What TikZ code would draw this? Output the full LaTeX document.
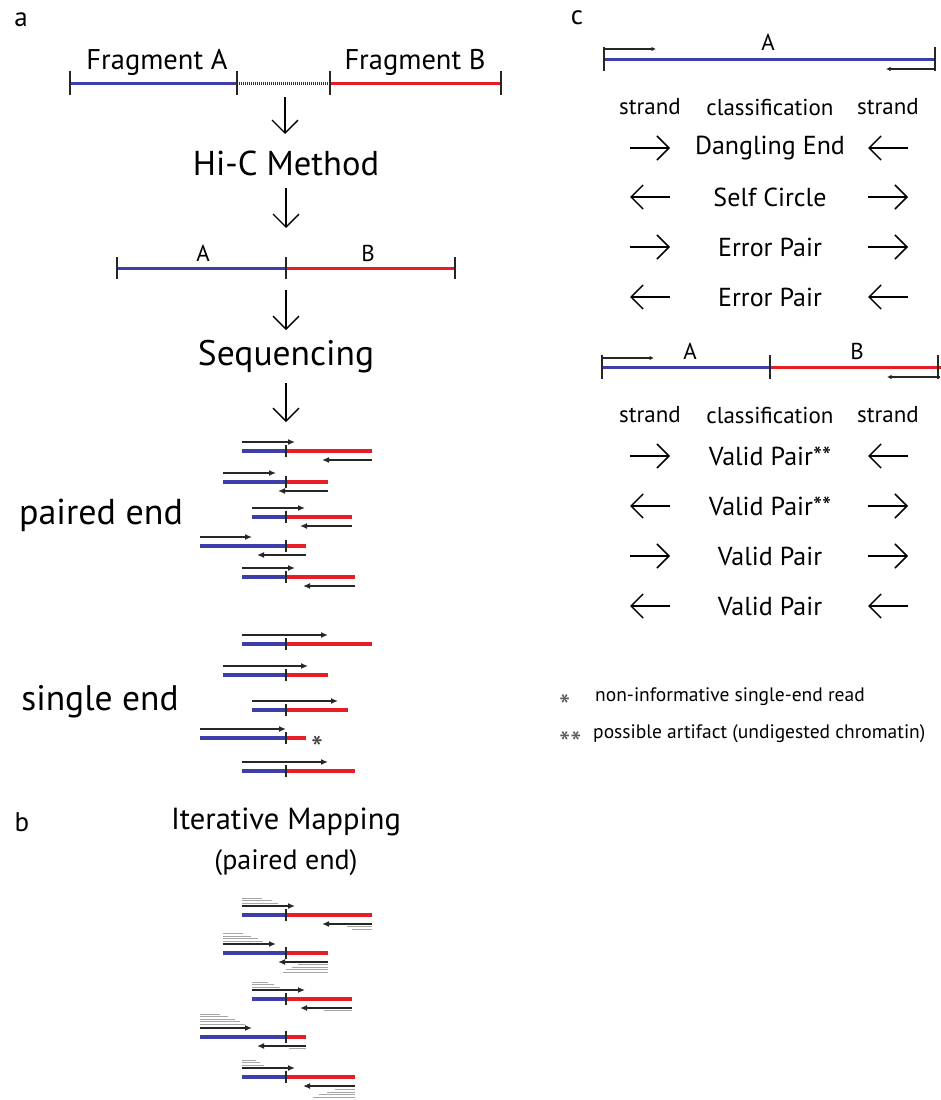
\documentclass[tikz,border=0pt]{standalone}
\usepackage{fontspec}
\setmainfont{PT Sans}
\usetikzlibrary{arrows.meta}
\definecolor{fragblue}{RGB}{62,62,170}
\definecolor{fragred}{RGB}{232,28,36}
\tikzset{
  blueseg/.style={fragblue,line width=3pt},
  redseg/.style={fragred,line width=3pt},
  tickmark/.style={black!85,line width=1.4pt},
  flow/.style={line width=1.4pt,-{Straight Barb[length=13pt,width=26pt]}},
  readarrow/.style={line width=1.8pt,black!85,-{Latex[length=7pt,width=6pt]}},
  readblue/.style={fragblue,line width=4pt},
  readred/.style={fragred,line width=4pt},
  fanline/.style={gray!70,line width=0.7pt},
  strandarrow/.style={line width=1.5pt,-{Straight Barb[length=12pt,width=24pt]}},
  smallarrow/.style={line width=1.3pt,black!85,-{Latex[length=4.5pt,width=4.5pt]}},
  fragtext/.style={font=\fontsize{28.5}{32}\selectfont,inner sep=0pt},
  labtext/.style={font=\fontsize{23}{27}\selectfont,inner sep=0pt},
  headtext/.style={font=\fontsize{23}{27}\selectfont,inner sep=0pt},
  rowtext/.style={font=\fontsize{26}{30}\selectfont,inner sep=0pt},
  paneltext/.style={font=\fontsize{27}{32}\selectfont,inner sep=0pt},
  notetext/.style={font=\fontsize{19.5}{23}\selectfont,inner sep=0pt,anchor=west},
  notestar/.style={font=\fontsize{32}{34}\selectfont,inner sep=0pt,anchor=west,text=black!65},
}
% paired-end read: name, y, blue start, red end, top tip, bottom tip
\newcommand\pairread[6]{%
  \coordinate (#1s) at (#3,#2);
  \coordinate (#1j) at (286,#2);
  \coordinate (#1e) at (#4,#2);
  \draw[readblue] (#1s) -- (#1j);
  \draw[readred] (#1j) -- (#1e);
  \draw[tickmark] ([yshift=6pt]#1j) -- ([yshift=-6pt]#1j);
  \coordinate (#1ta) at (#3,{#2-9});
  \coordinate (#1tb) at (#5,{#2-9});
  \draw[readarrow] (#1ta) -- (#1tb);
  \coordinate (#1ba) at (#4,{#2+9});
  \coordinate (#1bb) at (#6,{#2+9});
  \draw[readarrow] (#1ba) -- (#1bb);
}
% single-end read: name, y, blue start, red end, tip
\newcommand\singleread[5]{%
  \coordinate (#1s) at (#3,#2);
  \coordinate (#1j) at (286,#2);
  \coordinate (#1e) at (#4,#2);
  \draw[readblue] (#1s) -- (#1j);
  \draw[readred] (#1j) -- (#1e);
  \draw[tickmark] ([yshift=6pt]#1j) -- ([yshift=-6pt]#1j);
  \coordinate (#1ta) at (#3,{#2-9});
  \coordinate (#1tb) at (#5,{#2-9});
  \draw[readarrow] (#1ta) -- (#1tb);
}
\newcommand\fanup[3]{%
  \foreach \l [count=\i] in {#3} \draw[fanline] (#1,{#2-\i*2.6}) -- ++(\l,0);}
\newcommand\fandown[3]{%
  \foreach \l [count=\i] in {#3} \draw[fanline] (#1,{#2+\i*2.6}) -- ++(-\l,0);}
% strand row: name, y, text, left from, left to, right from, right to
\newcommand\strandrow[7]{%
  \node[rowtext] (#1t) at (770,#2) {#3};
  \coordinate (#1la) at (#4,#2); \coordinate (#1lb) at (#5,#2);
  \coordinate (#1ra) at (#6,#2); \coordinate (#1rb) at (#7,#2);
  \draw[strandarrow] (#1la) -- (#1lb);
  \draw[strandarrow] (#1ra) -- (#1rb);
}
\begin{document}
\begin{tikzpicture}[x=1pt,y=-1pt]
\useasboundingbox[fill=white] (0,0) rectangle (940,1100);

% ---------- panel a ----------
\node[paneltext] (la) at (21,20) {a};
\coordinate (f1) at (70,83);
\coordinate (f2) at (237,83);
\coordinate (f3) at (330,83);
\coordinate (f4) at (501,83);
\draw[blueseg] (f1) -- (f2);
\draw[black!80,line width=3pt,dash pattern=on 1.1pt off 0.9pt] (f2) -- (f3);
\draw[redseg] (f3) -- (f4);
\foreach \p in {f1,f2,f3,f4} \draw[tickmark] ([yshift=12pt]\p) -- ([yshift=-12pt]\p);
\node[fragtext] (fA) at (157,62) {Fragment A};
\node[fragtext] (fB) at (415,62) {Fragment B};

\coordinate (a1s) at (285,97);
\coordinate (a1e) at (285,134);
\draw[flow] (a1s) -- (a1e);
\node[font=\fontsize{34.5}{40}\selectfont,inner sep=0pt] (hic) at (286,163) {Hi-C Method};
\coordinate (a2s) at (286,188);
\coordinate (a2e) at (286,228);
\draw[flow] (a2s) -- (a2e);
\coordinate (m1) at (117,268);
\coordinate (m2) at (286,268);
\coordinate (m3) at (455,268);
\draw[blueseg] (m1) -- (m2);
\draw[redseg] (m2) -- (m3);
\foreach \p in {m1,m2,m3} \draw[tickmark] ([yshift=11pt]\p) -- ([yshift=-11pt]\p);
\node[labtext] (mA) at (203,253) {A};
\node[labtext] (mB) at (368,253) {B};

\coordinate (a3s) at (286,290);
\coordinate (a3e) at (286,330);
\draw[flow] (a3s) -- (a3e);
\node[font=\fontsize{35.5}{40}\selectfont,inner sep=0pt] (seq) at (286,357) {Sequencing};
\coordinate (a4s) at (286,383);
\coordinate (a4e) at (286,422);
\draw[flow] (a4s) -- (a4e);

\node[font=\fontsize{36}{40}\selectfont,inner sep=0pt] (pe) at (101,515) {paired end};
\pairread{p1}{451}{242}{372}{295}{322}
\pairread{p2}{482}{223}{328}{276}{278}
\pairread{p3}{517}{252}{352}{305}{300}
\pairread{p4}{546}{200}{306}{252}{257}
\pairread{p5}{577}{242}{355}{295}{303}

\node[font=\fontsize{35.5}{40}\selectfont,inner sep=0pt] (se) at (100,702) {single end};
\singleread{s1}{644}{242}{372}{328}
\singleread{s2}{675}{223}{328}{308}
\singleread{s3}{710}{252}{348}{338}
\singleread{s4}{738}{200}{306}{286}
\singleread{s5}{771}{242}{355}{328}
\node[font=\fontsize{34}{36}\selectfont,text=black!75,inner sep=0pt] (ast) at (317,748) {*};

% ---------- panel b ----------
\node[paneltext] (lb) at (22,822) {b};
\node[font=\fontsize{30.5}{36}\selectfont,inner sep=0pt] (itm) at (286,822) {Iterative Mapping};
\node[font=\fontsize{28}{34}\selectfont,inner sep=0pt] (ipe) at (286,863) {(paired end)};
\pairread{i1}{915}{242}{372}{295}{322}
\fanup{242}{906}{36,30,20}
\fandown{372}{924}{25,20}
\pairread{i2}{953}{223}{328}{276}{278}
\fanup{223}{944}{40,35,28,20}
\fandown{328}{962}{30,36,42,45}
\pairread{i3}{999}{252}{352}{305}{300}
\fanup{252}{990}{28,22,16}
\fandown{352}{1008}{28}
\pairread{i4}{1037}{200}{306}{252}{257}
\fanup{200}{1027}{45,40,35,28,20}
\fandown{306}{1046}{17}
\pairread{i5}{1077}{242}{355}{295}{303}
\fanup{242}{1068}{22,18,14}
\fandown{355}{1087}{20,28,36,42}

% ---------- panel c ----------
\node[paneltext] (lc) at (577,18) {c};
\coordinate (c1) at (604,59);
\coordinate (c2) at (935,59);
\draw[blueseg] (c1) -- (c2);
\foreach \p in {c1,c2} \draw[tickmark] ([yshift=12pt]\p) -- ([yshift=-12pt]\p);
\coordinate (cfa) at (604,49); \coordinate (cfb) at (656,49);
\draw[smallarrow] (cfa) -- (cfb);
\coordinate (cra) at (935,69); \coordinate (crb) at (886,69);
\draw[smallarrow] (cra) -- (crb);
\node[labtext] (cA) at (768,42) {A};

\node[headtext] (h1l) at (650,107) {strand};
\node[headtext] (h1c) at (770,107) {classification};
\node[headtext] (h1r) at (888,107) {strand};
\strandrow{r1}{148}{Dangling End}{630}{670}{908}{868}
\strandrow{r2}{197}{Self Circle}{670}{630}{868}{908}
\strandrow{r3}{247}{Error Pair}{630}{670}{868}{908}
\strandrow{r4}{297}{Error Pair}{670}{630}{908}{868}

\coordinate (d1) at (602,367);
\coordinate (d2) at (770,367);
\coordinate (d3) at (938,367);
\coordinate (d4) at (942,367);
\draw[blueseg] (d1) -- (d2);
\draw[redseg] (d2) -- (d4);
\foreach \p in {d1,d2,d3} \draw[tickmark] ([yshift=12pt]\p) -- ([yshift=-12pt]\p);
\coordinate (dfa) at (602,358); \coordinate (dfb) at (654,358);
\draw[smallarrow] (dfa) -- (dfb);
\coordinate (dra) at (940,377); \coordinate (drb) at (887,377);
\draw[smallarrow] (dra) -- (drb);
\node[labtext] (dA) at (690,351) {A};
\node[labtext] (dB) at (857,351) {B};

\node[headtext] (h2l) at (650,415) {strand};
\node[headtext] (h2c) at (770,415) {classification};
\node[headtext] (h2r) at (888,415) {strand};
\strandrow{v1}{456}{Valid Pair**}{630}{670}{908}{868}
\strandrow{v2}{506}{Valid Pair**}{670}{630}{868}{908}
\strandrow{v3}{556}{Valid Pair}{630}{670}{868}{908}
\strandrow{v4}{606}{Valid Pair}{670}{630}{908}{868}

\node[notestar] (n1s) at (559,706) {*};
\node[notetext] (n1) at (595,697) {non-informative single-end read};
\node[notestar] (n2s) at (559,743) {**};
\node[notetext] (n2) at (593,734) {possible artifact (undigested chromatin)};
\end{tikzpicture}
\end{document}
